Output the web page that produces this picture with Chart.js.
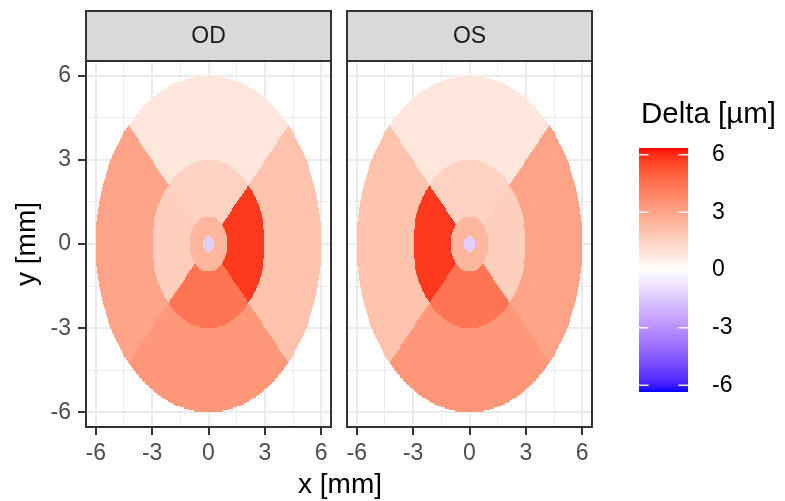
<!DOCTYPE html>
<html>
<head>
<meta charset="utf-8">
<script src="https://cdn.jsdelivr.net/npm/chart.js@4.4.1/dist/chart.umd.min.js"></script>
<style>
html, body { margin: 0; padding: 0; background: #fff; }
#wrap { position: relative; width: 785px; height: 501px; overflow: hidden; font-family: "Liberation Sans", Arial, sans-serif; }
canvas { position: absolute; top: 0; }
#xTitle { position: absolute; left: 240px; width: 200px; top: 470px; text-align: center; font-size: 28px; line-height: 28px; color: #000; }
</style>
</head>
<body>
<div id="wrap">
	<canvas id="odChart" width="340" height="501" style="left:0px"></canvas>
	<canvas id="osChart" width="270" height="501" style="left:330px"></canvas>
	<canvas id="legendChart" width="185" height="501" style="left:600px"></canvas>
	<div id="xTitle">x [mm]</div>
</div>
<script>
// sector order: fovea, center, inner top/right/bottom/left, outer top/right/bottom/left
const sectorNames = ["fovea", "center", "inner top", "inner right", "inner bottom", "inner left", "outer top", "outer right", "outer bottom", "outer left"];
const odDelta = [-1.3, 2.4, 1.5, 5.8, 4.4, 1.6, 0.8, 2.0, 3.4, 3.0];
const osDelta = [-1.3, 2.4, 1.5, 1.6, 4.4, 5.8, 0.8, 3.0, 3.4, 2.0];
const ringRadius = [0.28, 1, 3, 6];
const cellSize = 0.05;
const axisTicks = [-6, -3, 0, 3, 6];
const minorTicks = [-4.5, -1.5, 1.5, 4.5];
const legendTicks = [-6, -3, 0, 3, 6];
const deltaLimits = [-6.35, 6.35];
const panelNames = ["OD", "OS"];

const FONT = '"Liberation Sans", Arial, sans-serif';
Chart.defaults.font.family = FONT;

// colour scale: blue - white - red, interpolated in Lab like ggplot
function toLin(c) {
	c = c / 255;
	return c <= 0.04045 ? c / 12.92 : Math.pow((c + 0.055) / 1.055, 2.4);
}
function fromLin(c) {
	c = c <= 0.0031308 ? 12.92 * c : 1.055 * Math.pow(c, 1 / 2.4) - 0.055;
	return Math.max(0, Math.min(255, Math.round(c * 255)));
}
function rgbToLab(rgb) {
	const r = toLin(rgb[0]), g = toLin(rgb[1]), b = toLin(rgb[2]);
	const X = (0.4124564 * r + 0.3575761 * g + 0.1804375 * b) / 0.95047;
	const Y = 0.2126729 * r + 0.7151522 * g + 0.072175 * b;
	const Z = (0.0193339 * r + 0.119192 * g + 0.9503041 * b) / 1.08883;
	const f = (t) => (t > 0.008856 ? Math.cbrt(t) : 7.787 * t + 16 / 116);
	return [116 * f(Y) - 16, 500 * (f(X) - f(Y)), 200 * (f(Y) - f(Z))];
}
function labToRgb(lab) {
	const fy = (lab[0] + 16) / 116, fx = fy + lab[1] / 500, fz = fy - lab[2] / 200;
	const inv = (t) => (t * t * t > 0.008856 ? t * t * t : (t - 16 / 116) / 7.787);
	const X = inv(fx) * 0.95047, Y = inv(fy), Z = inv(fz) * 1.08883;
	const r = 3.2404542 * X - 1.5371385 * Y - 0.4985314 * Z;
	const g = -0.969266 * X + 1.8760108 * Y + 0.041556 * Z;
	const b = 0.0556434 * X - 0.2040259 * Y + 1.0572252 * Z;
	return "rgb(" + fromLin(r) + "," + fromLin(g) + "," + fromLin(b) + ")";
}
const labLow = rgbToLab([0, 0, 255]);
const labMid = rgbToLab([255, 255, 255]);
const labHigh = rgbToLab([255, 0, 0]);
const colorCache = {};
function deltaColor(v) {
	if (colorCache[v]) return colorCache[v];
	const lim = Math.max(Math.abs(deltaLimits[0]), Math.abs(deltaLimits[1]));
	let t = Math.min(1, Math.abs(v) / lim);
	const end = v >= 0 ? labHigh : labLow;
	const lab = [0, 1, 2].map((i) => labMid[i] + (end[i] - labMid[i]) * t);
	colorCache[v] = labToRgb(lab);
	return colorCache[v];
}

// raster cells of the grid, value taken from the sector they fall in
function buildCells(delta) {
	const cells = [];
	const n = Math.round(ringRadius[3] / cellSize);
	for (let i = -n; i <= n; i++) {
		for (let j = -n; j <= n; j++) {
			const x = i * cellSize, y = j * cellSize;
			const r = Math.hypot(x, y);
			if (r >= ringRadius[3]) continue;
			let k;
			if (r < ringRadius[0]) k = 0;
			else if (r < ringRadius[1]) k = 1;
			else {
				let q = Math.abs(y) >= Math.abs(x) ? (y > 0 ? 0 : 2) : (x > 0 ? 1 : 3);
				k = (r < ringRadius[2] ? 2 : 6) + q;
			}
			cells.push({ x: x, y: y, v: delta[k] });
		}
	}
	return cells;
}

const gridValues = axisTicks.concat(minorTicks).sort((a, b) => a - b);
const isMajor = (c) => c.tick && axisTicks.includes(c.tick.value);

// draws the cells with the chart scales
const tilePlugin = {
	id: "tiles",
	beforeDatasetsDraw(chart) {
		const { ctx, chartArea, scales } = chart;
		const xs = scales.x, ys = scales.y;
		const half = cellSize / 2;
		ctx.save();
		ctx.beginPath();
		ctx.rect(chartArea.left, chartArea.top, chartArea.width, chartArea.height);
		ctx.clip();
		for (const c of chart.data.datasets[0].data) {
			const x0 = Math.round(xs.getPixelForValue(c.x - half));
			const x1 = Math.round(xs.getPixelForValue(c.x + half));
			const y0 = Math.round(ys.getPixelForValue(c.y + half));
			const y1 = Math.round(ys.getPixelForValue(c.y - half));
			if (x1 === x0 || y1 === y0) continue;
			ctx.fillStyle = deltaColor(c.v);
			ctx.fillRect(x0, y0, x1 - x0, y1 - y0);
		}
		ctx.restore();
	},
};

// panel border and facet strip
const panelPlugin = {
	id: "panel",
	afterDraw(chart, args, opts) {
		const { ctx, chartArea } = chart;
		ctx.save();
		ctx.lineWidth = 2;
		ctx.strokeStyle = "#333333";
		ctx.fillStyle = "#D9D9D9";
		ctx.fillRect(chartArea.left, 11, chartArea.width, chartArea.top - 11);
		ctx.strokeRect(chartArea.left, 11, chartArea.width, chartArea.top - 11);
		ctx.strokeRect(chartArea.left, chartArea.top, chartArea.width, chartArea.height);
		ctx.fillStyle = "#1A1A1A";
		ctx.font = "23px " + FONT;
		ctx.textAlign = "center";
		ctx.textBaseline = "middle";
		ctx.fillText(opts.label, (chartArea.left + chartArea.right) / 2, 37);
		ctx.restore();
	},
};

function xAxis() {
	return {
		type: "linear",
		min: -6.52,
		max: 6.52,
		afterBuildTicks: (s) => { s.ticks = gridValues.map((v) => ({ value: v })); },
		afterFit: (s) => { s.height = 74; },
		border: { display: false },
		grid: {
			color: "#EBEBEB",
			lineWidth: (c) => (isMajor(c) ? 2 : 1),
			tickColor: (c) => (isMajor(c) ? "#333333" : "rgba(0,0,0,0)"),
			tickWidth: 2,
			tickLength: 8,
		},
		ticks: {
			autoSkip: false,
			maxRotation: 0,
			padding: 5,
			color: "#4D4D4D",
			font: { size: 23 },
			callback: (v) => (axisTicks.includes(v) ? String(v) : ""),
		},
	};
}

function yAxis(showLabels) {
	return {
		type: "linear",
		min: -6.52,
		max: 6.52,
		afterBuildTicks: (s) => { s.ticks = gridValues.map((v) => ({ value: v })); },
		afterFit: (s) => { s.width = showLabels ? 86 : 0; },
		border: { display: false },
		title: {
			display: showLabels,
			text: "y [mm]",
			color: "#000000",
			font: { size: 28 },
			padding: { top: 10, bottom: 0 },
		},
		grid: {
			color: "#EBEBEB",
			lineWidth: (c) => (isMajor(c) ? 2 : 1),
			tickColor: (c) => (isMajor(c) ? "#333333" : "rgba(0,0,0,0)"),
			tickWidth: 2,
			tickLength: 8,
			drawTicks: showLabels,
		},
		ticks: {
			display: showLabels,
			autoSkip: false,
			padding: 7,
			color: "#4D4D4D",
			font: { size: 23 },
			callback: (v) => (axisTicks.includes(v) ? String(v) : ""),
		},
	};
}

function panelChart(id, delta, label, showY, padding) {
	return new Chart(document.getElementById(id), {
		type: "scatter",
		data: {
			datasets: [
				{
					label: label,
					data: buildCells(delta),
					pointRadius: 0,
					pointHoverRadius: 0,
				},
			],
		},
		options: {
			responsive: false,
			animation: false,
			events: [],
			layout: { padding: padding },
			plugins: {
				legend: { display: false },
				tooltip: { enabled: false },
				panel: { label: label },
			},
			scales: { x: xAxis(), y: yAxis(showY) },
		},
		plugins: [tilePlugin, panelPlugin],
	});
}

var odChart = panelChart("odChart", odDelta, panelNames[0], true, { left: 0, right: 9, top: 61, bottom: 0 });
var osChart = panelChart("osChart", osDelta, panelNames[1], false, { left: 17, right: 8, top: 61, bottom: 0 });

// colour bar legend
const barTickPlugin = {
	id: "barTicks",
	afterDatasetsDraw(chart) {
		const { ctx, chartArea, scales } = chart;
		ctx.save();
		ctx.strokeStyle = "rgba(255,255,255,0.9)";
		ctx.lineWidth = 1.5;
		for (const v of legendTicks) {
			const py = scales.y.getPixelForValue(v);
			ctx.beginPath();
			ctx.moveTo(chartArea.left, py);
			ctx.lineTo(chartArea.left + 9.6, py);
			ctx.moveTo(chartArea.right - 9.6, py);
			ctx.lineTo(chartArea.right, py);
			ctx.stroke();
		}
		ctx.fillStyle = "#000000";
		ctx.font = "29.5px " + FONT;
		ctx.textAlign = "left";
		ctx.textBaseline = "alphabetic";
		ctx.fillText("Delta [µm]", chartArea.left + 2, 123);
		ctx.restore();
	},
};

var legendChart = new Chart(document.getElementById("legendChart"), {
	type: "bar",
	data: {
		labels: ["Delta"],
		datasets: [
			{
				data: [deltaLimits],
				borderWidth: 0,
				barPercentage: 1,
				categoryPercentage: 1,
				backgroundColor: (c) => {
					const ch = c.chart;
					if (!ch.chartArea) return "#ffffff";
					const ys = ch.scales.y;
					const g = ch.ctx.createLinearGradient(0, ys.getPixelForValue(deltaLimits[0]), 0, ys.getPixelForValue(deltaLimits[1]));
					for (let i = 0; i <= 60; i++) {
						const t = i / 60;
						g.addColorStop(t, deltaColor(deltaLimits[0] + t * (deltaLimits[1] - deltaLimits[0])));
					}
					return g;
				},
			},
		],
	},
	options: {
		responsive: false,
		animation: false,
		events: [],
		layout: { padding: { left: 39, right: 0, top: 148, bottom: 109 } },
		plugins: { legend: { display: false }, tooltip: { enabled: false } },
		scales: {
			x: { display: false },
			y: {
				position: "right",
				min: deltaLimits[0],
				max: deltaLimits[1],
				afterBuildTicks: (s) => { s.ticks = legendTicks.map((v) => ({ value: v })); },
				afterFit: (s) => { s.width = 97; },
				border: { display: false },
				grid: { display: false },
				ticks: { padding: 16, color: "#000000", font: { size: 23 } },
			},
		},
	},
	plugins: [barTickPlugin],
});
</script>
</body>
</html>
